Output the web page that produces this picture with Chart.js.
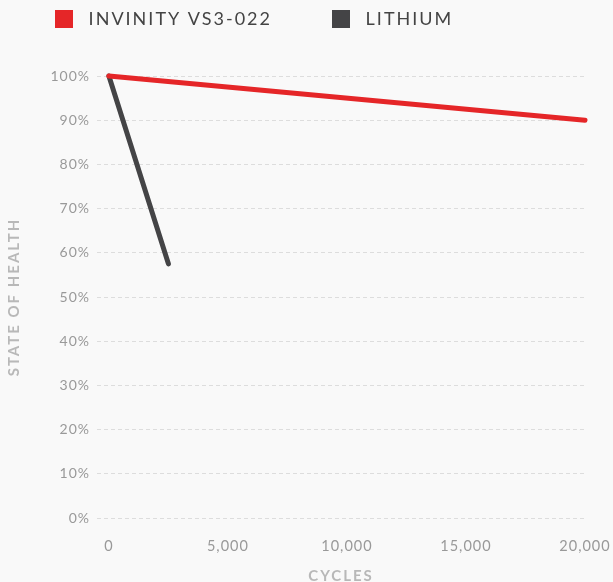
<!DOCTYPE html>
<html lang="en">
<head>
  <meta charset="UTF-8">
  <title>State of Health vs Cycles</title>
  <script src="https://cdn.jsdelivr.net/npm/chart.js"></script>
  <style>
    html, body { margin: 0; padding: 0; background: #f9f9f9; }
    #wrap { width: 613px; height: 582px; }
  </style>
</head>
<body>
  <div id="wrap"><canvas id="sohChart"></canvas></div>

  <script>
    // data
    const invinityCycles = [0, 20000];
    const invinityHealth = [100, 90];
    const lithiumCycles = [0, 2500];
    const lithiumHealth = [100, 57.5];
    const xTicks = [0, 5000, 10000, 15000, 20000];
    const seriesNames = [' INVINITY VS3-022', ' LITHIUM'];

    const toPoints = (xs, ys) => xs.map((x, i) => ({ x: x, y: ys[i] }));

    // run fn with a given canvas letter spacing, then go back to 1px
    function spaced(ctx, amount, fn) {
      ctx.letterSpacing = amount;
      fn();
      ctx.letterSpacing = '1px';
    }

    // letter spacing for the canvas text (reset whenever the canvas is resized)
    const spacing = {
      id: 'spacing',
      beforeLayout(chart) {
        chart.ctx.letterSpacing = '1px';
        Object.values(chart.scales).forEach(s => {
          if (s._spaced) return;
          const drawTitle = s.drawTitle;
          s.drawTitle = function () { spaced(chart.ctx, '2px', () => drawTitle.apply(this, arguments)); };
          s._spaced = true;
        });
      },
      beforeDraw(chart) { chart.ctx.letterSpacing = '1px'; }
    };

    // legend: wider letters, fixed height, pulled up to the top left
    const legendTweak = {
      id: 'legendTweak',
      afterInit(chart) {
        const lg = chart.legend;
        const fit = lg.fit;
        const draw = lg.draw;
        lg.fit = function () { fit.apply(this, arguments); this.height = 40; };
        lg.draw = function () { spaced(chart.ctx, '2px', () => draw.apply(this, arguments)); };
      },
      afterLayout(chart) {
        chart.legend.top = -50;
        chart.legend.left = -5;
      }
    };

    const ctx = document.getElementById('sohChart').getContext('2d');
    const chart = new Chart(ctx, {
      type: 'line',
      data: {
        datasets: [
          {
            label: seriesNames[0],
            data: toPoints(invinityCycles, invinityHealth),
            borderColor: '#e52628',
            backgroundColor: '#e52628',
            borderWidth: 5,
            borderCapStyle: 'round',
            pointRadius: 0,
            clip: false
          },
          {
            label: seriesNames[1],
            data: toPoints(lithiumCycles, lithiumHealth),
            borderColor: '#444446',
            backgroundColor: '#444446',
            borderWidth: 5,
            borderCapStyle: 'round',
            pointRadius: 0,
            clip: false
          }
        ]
      },
      plugins: [spacing, legendTweak],
      options: {
        responsive: true,
        maintainAspectRatio: false,
        animation: false,
        layout: { padding: 0 },
        plugins: {
          tooltip: { enabled: false },
          legend: {
            position: 'top',
            align: 'start',
            labels: {
              boxWidth: 18,
              boxHeight: 18,
              padding: 60,
              color: '#444',
              font: { family: 'Lato', size: 18 },
              generateLabels(chart) {
                return Chart.defaults.plugins.legend.labels.generateLabels(chart)
                  .map(item => Object.assign(item, { lineWidth: 0 }));
              }
            }
          }
        },
        scales: {
          x: {
            type: 'linear',
            min: -500,
            max: 20000,
            afterBuildTicks(scale) {
              scale.ticks = xTicks.map(v => ({ value: v }));
            },
            afterFit(scale) {
              scale.height = 64;
              scale.paddingRight = 28;
            },
            grid: { display: false },
            border: { display: false },
            ticks: {
              color: '#999',
              padding: 12,
              font: { family: 'Lato', size: 14.5 },
              callback: v => v.toLocaleString('en-US')
            },
            title: {
              display: true,
              text: 'CYCLES',
              color: '#b8b8b8',
              padding: { top: 0, bottom: -3 },
              font: { family: 'Lato', size: 15, weight: 'bold' }
            }
          },
          y: {
            min: 0,
            max: 100,
            afterFit(scale) {
              scale.width = 97;
              scale.paddingTop = 76;
            },
            grid: {
              color: '#dddddd',
              drawTicks: false
            },
            border: { display: false, dash: [4, 3] },
            ticks: {
              stepSize: 10,
              color: '#999',
              padding: 7,
              font: { family: 'Lato', size: 14 },
              callback: v => v + '%'
            },
            title: {
              display: true,
              text: 'STATE OF HEALTH',
              color: '#b8b8b8',
              padding: { top: 5, bottom: 0 },
              font: { family: 'Lato', size: 15, weight: 'bold' }
            }
          }
        }
      }
    });
  </script>
</body>
</html>
